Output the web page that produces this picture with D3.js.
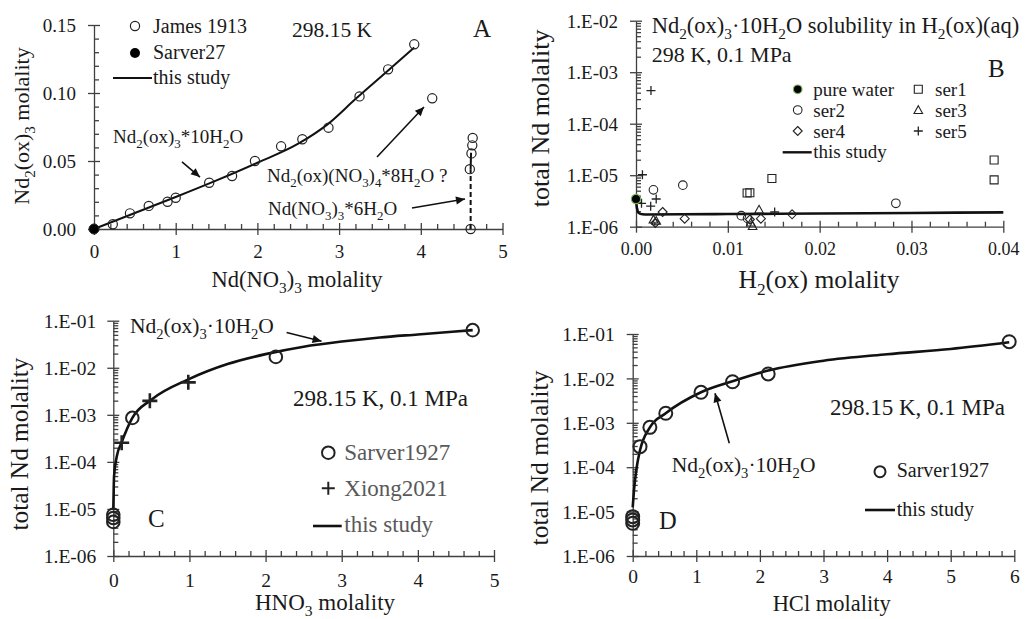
<!DOCTYPE html>
<html><head><meta charset="utf-8">
<script src="https://cdn.jsdelivr.net/npm/d3@7"></script>
<style>
html,body{margin:0;padding:0;background:#fff;}
svg{display:block;font-family:"Liberation Serif","Times New Roman",serif;}
</style></head><body>
<svg id="c" width="1027" height="619"></svg>
<script>
// ================= DATA =================
// Panel A
const aTicksX = [0, 1, 2, 3, 4, 5];
const aTickLabelsX = ["0", "1", "2", "3", "4", "5"];
const aTicksY = [0, 0.05, 0.10, 0.15];
const aTickLabelsY = ["0.00", "0.05", "0.10", "0.15"];
const aJames = [[0.23,0.0035],[0.44,0.0115],[0.67,0.017],[0.90,0.020],[1.00,0.023],[1.41,0.034],[1.69,0.039],[1.97,0.050],[2.29,0.0608],[2.55,0.066],[2.87,0.0745],[3.25,0.0975],[3.60,0.1174],[3.92,0.1358],[4.14,0.0961],[4.61,0.0],[4.60,0.044],[4.62,0.0556],[4.63,0.0615],[4.635,0.067]];
const aSarver = [[0, 0]];
const aModel = [[0,0],[0.5,0.0118],[1,0.0235],[1.5,0.0357],[2,0.0487],[2.5,0.0627],[2.87,0.0775],[3.2,0.0955],[3.6,0.1165],[3.92,0.1335]];
const aModelDashed = [[4.61,0],[4.61,0.044]];
const aModelTop = [[4.61,0.044],[4.615,0.056]];
// Panel B
const bTicksX = [0, 0.01, 0.02, 0.03, 0.04];
const bTickLabelsX = ["0.00", "0.01", "0.02", "0.03", "0.04"];
const bTicksY = [1e-6, 1e-5, 1e-4, 1e-3, 1e-2];
const bTickLabelsY = ["1.E-06", "1.E-05", "1.E-04", "1.E-03", "1.E-02"];
const bPure = [[0, 3.45e-6]];
const bSer1 = [[0.039,1.97e-5],[0.039,8.1e-6],[0.0148,8.6e-6],[0.0121,4.5e-6],[0.0124,4.55e-6]];
const bSer2 = [[0.0019,5.2e-6],[0.0051,6.4e-6],[0.0283,2.85e-6],[0.01147,1.64e-6],[0.01215,1.45e-6]];
const bSer3 = [[0.0019,1.38e-6],[0.0022,1.3e-6],[0.0134,2.15e-6],[0.0127,1.03e-6],[0.0125,1.2e-6]];
const bSer4 = [[0.0029,1.93e-6],[0.0053,1.43e-6],[0.0021,1.18e-6],[0.0136,1.43e-6],[0.0170,1.74e-6],[0.0124,1.38e-6]];
const bSer5 = [[0.00163,4.4e-4],[0.0007,1.02e-5],[0.0006,2.85e-6],[0.0016,2.5e-6],[0.0022,3.45e-6],[0.0151,1.93e-6]];
const bModel = [[0,3.45e-6],[0.0001,2.3e-6],[0.0003,1.85e-6],[0.0007,1.74e-6],[0.001,1.73e-6],[0.005,1.74e-6],[0.01,1.76e-6],[0.02,1.8e-6],[0.03,1.85e-6],[0.04,1.9e-6]];
// Panel C
const cTicksX = [0, 1, 2, 3, 4, 5];
const cTickLabelsX = ["0", "1", "2", "3", "4", "5"];
const cTicksY = [1e-6, 1e-5, 1e-4, 1e-3, 1e-2, 1e-1];
const cTickLabelsY = ["1.E-06", "1.E-05", "1.E-04", "1.E-03", "1.E-02", "1.E-01"];
const cSarver = [[0,7.5e-6],[0,6.4e-6],[0,5.3e-6],[0.25,8.6e-4],[2.135,1.7e-2],[4.72,6.3e-2]];
const cXiong = [[0.11,2.55e-4],[0.48,1.98e-3],[0.985,4.9e-3]];
const cModel = [[0,9.5e-6],[0.005,2.5e-5],[0.01,5e-5],[0.044,1.27e-4],[0.11,2.6e-4],[0.25,8.6e-4],[0.5,2.1e-3],[1.0,5.8e-3],[1.5,1.2e-2],[2.0,1.95e-2],[2.5,2.8e-2],[3.0,3.6e-2],[3.5,4.4e-2],[4.0,5.1e-2],[4.72,6.3e-2]];
// Panel D
const dTicksX = [0, 1, 2, 3, 4, 5, 6];
const dTickLabelsX = ["0", "1", "2", "3", "4", "5", "6"];
const dTicksY = [1e-6, 1e-5, 1e-4, 1e-3, 1e-2, 1e-1];
const dTickLabelsY = ["1.E-06", "1.E-05", "1.E-04", "1.E-03", "1.E-02", "1.E-01"];
const dSarver = [[0,7.7e-6],[0,6.5e-6],[0,5.45e-6],[0.115,2.9e-4],[0.27,7.9e-4],[0.52,1.64e-3],[1.074,4.87e-3],[1.57,8.4e-3],[2.13,1.26e-2],[5.92,6.7e-2]];
const dModel = [[0,1.25e-5],[0.02,3e-5],[0.063,1.0e-4],[0.115,2.4e-4],[0.27,7.9e-4],[0.52,1.64e-3],[1.074,4.87e-3],[1.57,8.6e-3],[2.13,1.5e-2],[3.0,2.5e-2],[4.0,3.5e-2],[5.0,4.6e-2],[5.92,6.5e-2]];

// ================= HELPERS =================
const svg = d3.select('#c');
const AX = '#404040', TX = '#1a1a1a';
const defs = svg.append('defs');
defs.append('marker').attr('id','arr').attr('viewBox','0 0 10 10').attr('refX',10).attr('refY',5)
  .attr('markerWidth',11).attr('markerHeight',9).attr('markerUnits','userSpaceOnUse').attr('orient','auto')
  .append('path').attr('d','M0,0.5 L10,5 L0,9.5 z').attr('fill','#111');

function rich(t, str, fs) {
  t.attr('font-size', fs);
  const parts = str.split(/(_\{[^}]*\}|_.)/).filter(s => s.length);
  const sh = fs * 0.27;
  let shifted = false;
  parts.forEach(p => {
    if (p[0] === '_') {
      const s = p[1] === '{' ? p.slice(2, -1) : p.slice(1);
      t.append('tspan').attr('dy', shifted ? 0 : sh).attr('font-size', fs * 0.68).text(s);
      shifted = true;
    } else {
      const ts = t.append('tspan').text(p);
      if (shifted) { ts.attr('dy', -sh); shifted = false; }
    }
  });
  return t;
}
function label(x, y, str, fs, opt = {}) {
  const t = svg.append('text').attr('x', x).attr('y', y).attr('fill', opt.fill || TX)
    .attr('text-anchor', opt.anchor || 'start');
  if (opt.rotate) t.attr('transform', `rotate(-90,${x},${y})`);
  return rich(t, str, fs);
}
function minorsLin(lo, hi, step, majors) {
  const out = [];
  for (let v = lo; v <= hi + 1e-9; v += step) {
    const r = +v.toFixed(6);
    if (!majors.some(m => Math.abs(m - r) < 1e-9)) out.push(r);
  }
  return out;
}
function minorsLog(e0, e1) {
  const out = [];
  for (let e = e0; e < e1; e++) for (let k = 2; k <= 9; k++) out.push(k * Math.pow(10, e));
  return out;
}
function styleAxis(g) {
  g.attr('font-family', null).attr('font-size', null).attr('color', AX);
  g.selectAll('line,path').attr('stroke-width', 1.3);
  g.selectAll('text').attr('fill', TX);
}
function xAxis(x, yPix, ticks, labels, minor, fs, off) {
  const g = svg.append('g').attr('transform', `translate(0,${yPix})`);
  const mi = g.append('g').call(d3.axisBottom(x).tickValues(minor).tickSize(-5).tickFormat(() => ''));
  mi.select('.domain').remove(); styleAxis(mi);
  const ma = g.append('g').call(d3.axisBottom(x).tickValues(ticks).tickSizeInner(6).tickSizeOuter(0).tickFormat((d, i) => labels[i]));
  ma.selectAll('.tick line').attr('y1', -6);
  ma.selectAll('.tick text').attr('y', off).attr('dy', null).attr('font-size', fs);
  styleAxis(ma);
}
function yAxis(y, xPix, ticks, labels, minor, fs, pad) {
  const g = svg.append('g').attr('transform', `translate(${xPix},0)`);
  const mi = g.append('g').call(d3.axisLeft(y).tickValues(minor).tickSize(-5).tickFormat(() => ''));
  mi.select('.domain').remove(); styleAxis(mi);
  const ma = g.append('g').call(d3.axisLeft(y).tickValues(ticks).tickSizeInner(6).tickSizeOuter(0).tickPadding(pad).tickFormat((d, i) => labels[i]));
  ma.selectAll('.tick line').attr('x1', 6);
  ma.selectAll('.tick text').attr('font-size', fs).attr('dy', '0.34em');
  styleAxis(ma);
}
function circles(x, y, data, r, sw, fill) {
  svg.append('g').selectAll('circle').data(data).join('circle')
    .attr('cx', d => x(d[0])).attr('cy', d => y(d[1])).attr('r', r)
    .attr('fill', fill || 'none').attr('stroke', '#222').attr('stroke-width', sw);
}
function symbols(x, y, data, path, sw) {
  svg.append('g').selectAll('path').data(data).join('path')
    .attr('transform', d => `translate(${x(d[0])},${y(d[1])})`).attr('d', path)
    .attr('fill', 'none').attr('stroke', '#222').attr('stroke-width', sw);
}
function curve(x, y, data, sw, dash, linear) {
  svg.append('path').datum(data)
    .attr('d', d3.line().x(d => x(d[0])).y(d => y(d[1])).curve(linear ? d3.curveLinear : d3.curveMonotoneX))
    .attr('fill', 'none').attr('stroke', '#111').attr('stroke-width', sw)
    .attr('stroke-dasharray', dash || null);
}
function arrow(x, y, p0, p1) {
  svg.append('line').attr('x1', x(p0[0])).attr('y1', y(p0[1])).attr('x2', x(p1[0])).attr('y2', y(p1[1]))
    .attr('stroke', '#111').attr('stroke-width', 1.6).attr('marker-end', 'url(#arr)');
}
const plusP = s => `M${-s},0H${s}M0,${-s}V${s}`;
const squareP = s => `M${-s},${-s}H${s}V${s}H${-s}Z`;
const triP = s => `M0,${-s}L${s},${s * 0.8}L${-s},${s * 0.8}Z`;
const diaP = s => `M0,${-s}L${s},0L0,${s}L${-s},0Z`;

// ================= PANEL A =================
{
  const x = d3.scaleLinear().domain([0, 5]).range([94, 502.5]);
  const y = d3.scaleLinear().domain([0, 0.15]).range([229, 25]);
  yAxis(y, 94, aTicksY, aTickLabelsY, minorsLin(0, 0.15, 0.01, aTicksY), 19, 12);
  xAxis(x, 229, aTicksX, aTickLabelsX, minorsLin(0, 5, 0.2, aTicksX), 19, 29);
  curve(x, y, aModel, 2);
  curve(x, y, aModelDashed, 2, '5,3', true);
  curve(x, y, aModelTop, 2, null, true);
  circles(x, y, aJames, 4.6, 1.2, 'none');
  circles(x, y, aSarver, 5, 1, '#000');
  // legend
  svg.append('circle').attr('cx', 135).attr('cy', 26).attr('r', 4.6).attr('fill', 'none').attr('stroke', '#222').attr('stroke-width', 1.2);
  svg.append('circle').attr('cx', 135).attr('cy', 53).attr('r', 5).attr('fill', '#000');
  svg.append('line').attr('x1', 113).attr('x2', 152).attr('y1', 78).attr('y2', 78).attr('stroke', '#111').attr('stroke-width', 2);
  label(153, 33, 'James 1913', 20);
  label(153, 59, 'Sarver27', 20);
  label(153, 84, 'this study', 20);
  label(292, 37, '298.15 K', 21.5);
  label(473, 37, 'A', 25);
  label(113, 143, 'Nd_2(ox)_3*10H_2O', 19);
  arrow(x, y, [1.077, 0.0493], [1.297, 0.0382]);
  label(267, 182, 'Nd_2(ox)(NO_3)_4*8H_2O  ?', 19);
  arrow(x, y, [3.464, 0.0529], [4.039, 0.0897]);
  label(268, 215, 'Nd(NO_3)_3*6H_2O', 19);
  arrow(x, y, [3.892, 0.0154], [4.541, 0.0221]);
  label(29, 126, 'Nd_2(ox)_3 molality', 22, { anchor: 'middle', rotate: true });
  label(297, 287, 'Nd(NO_3)_3 molality', 22.5, { anchor: 'middle' });
}

// ================= PANEL B =================
{
  const x = d3.scaleLinear().domain([0, 0.04]).range([636, 1003.3]);
  const y = d3.scaleLog().domain([1e-6, 1e-2]).range([226.7, 20.7]);
  yAxis(y, 636, bTicksY, bTickLabelsY, minorsLog(-6, -2), 19, 12);
  xAxis(x, 226.7, bTicksX, bTickLabelsX, minorsLin(0, 0.04, 0.002, bTicksX), 18, 28);
  curve(x, y, bModel, 2.6);
  symbols(x, y, bSer1, squareP(4), 1.1);
  circles(x, y, bSer2, 4.3, 1.1, 'none');
  symbols(x, y, bSer3, triP(4.3), 1.1);
  symbols(x, y, bSer4, diaP(4.5), 1.1);
  symbols(x, y, bSer5, plusP(4.5), 1.3);
  svg.append('g').selectAll('circle').data(bPure).join('circle')
    .attr('cx', d => x(d[0])).attr('cy', d => y(d[1])).attr('r', 4.6)
    .attr('fill', '#000').attr('stroke', '#7ab55c').attr('stroke-width', 1.2);
  // legend
  svg.append('circle').attr('cx', 797.7).attr('cy', 89.3).attr('r', 4.3).attr('fill', '#000').attr('stroke', '#7ab55c').attr('stroke-width', 1.2);
  svg.append('circle').attr('cx', 797.7).attr('cy', 110).attr('r', 4.3).attr('fill', 'none').attr('stroke', '#222').attr('stroke-width', 1.1);
  svg.append('path').attr('transform', 'translate(797.7,131)').attr('d', diaP(4.5)).attr('fill', 'none').attr('stroke', '#222').attr('stroke-width', 1.1);
  svg.append('line').attr('x1', 782.7).attr('x2', 811.7).attr('y1', 152.3).attr('y2', 152.3).attr('stroke', '#111').attr('stroke-width', 2.4);
  svg.append('path').attr('transform', 'translate(918.3,89.3)').attr('d', squareP(4)).attr('fill', 'none').attr('stroke', '#222').attr('stroke-width', 1.1);
  svg.append('path').attr('transform', 'translate(918.3,110)').attr('d', triP(4.3)).attr('fill', 'none').attr('stroke', '#222').attr('stroke-width', 1.1);
  svg.append('path').attr('transform', 'translate(918.3,131)').attr('d', plusP(4.5)).attr('fill', 'none').attr('stroke', '#222').attr('stroke-width', 1.3);
  label(813.3, 96, 'pure water', 19);
  label(813.3, 117, 'ser2', 19);
  label(813.3, 138, 'ser4', 19);
  label(813.3, 158, 'this study', 19);
  label(935, 96, 'ser1', 19);
  label(935, 117, 'ser3', 19);
  label(935, 138, 'ser5', 19);
  label(651.7, 33.3, 'Nd_2(ox)_3·10H_2O solubility in H_2(ox)(aq)', 22.5);
  label(651.7, 61.7, '298 K, 0.1 MPa', 22);
  label(988, 76.7, 'B', 25);
  label(549, 118.3, 'total Nd molality', 26, { anchor: 'middle', rotate: true });
  label(819, 288, 'H_2(ox) molality', 25.5, { anchor: 'middle' });
}

// ================= PANEL C =================
{
  const x = d3.scaleLinear().domain([0, 5]).range([113.3, 494]);
  const y = d3.scaleLog().domain([1e-6, 1e-1]).range([556, 320.7]);
  yAxis(y, 113.3, cTicksY, cTickLabelsY, minorsLog(-6, -1), 19.5, 11);
  xAxis(x, 556, cTicksX, cTickLabelsX, minorsLin(0, 5, 0.2, cTicksX), 19.5, 30.7);
  curve(x, y, cModel, 2.6);
  circles(x, y, cSarver, 6.3, 2, 'none');
  symbols(x, y, cXiong, plusP(7.5), 2.6);
  svg.append('circle').attr('cx', 328.3).attr('cy', 452.7).attr('r', 6.3).attr('fill', 'none').attr('stroke', '#222').attr('stroke-width', 2);
  svg.append('path').attr('transform', 'translate(328.3,488.3)').attr('d', plusP(6.5)).attr('fill', 'none').attr('stroke', '#222').attr('stroke-width', 2);
  svg.append('line').attr('x1', 313).attr('x2', 341.7).attr('y1', 526).attr('y2', 526).attr('stroke', '#111').attr('stroke-width', 2.6);
  label(344.3, 460, 'Sarver1927', 23, { fill: '#595959' });
  label(344.3, 496, 'Xiong2021', 23, { fill: '#595959' });
  label(344.3, 532, 'this study', 23, { fill: '#595959' });
  label(293, 406, '298.15 K, 0.1 MPa', 23);
  label(148, 527, 'C', 25);
  label(130, 333.3, 'Nd_2(ox)_3·10H_2O', 21.5);
  arrow(x, y, [2.276, 5.61e-2], [2.735, 3.67e-2]);
  label(28, 444, 'total Nd molality', 25.3, { anchor: 'middle', rotate: true });
  label(325, 609.5, 'HNO_3 molality', 23, { anchor: 'middle' });
}

// ================= PANEL D =================
{
  const x = d3.scaleLinear().domain([0, 6]).range([632.7, 1014.3]);
  const y = d3.scaleLog().domain([1e-6, 1e-1]).range([556, 334]);
  yAxis(y, 632.7, dTicksY, dTickLabelsY, minorsLog(-6, -1), 19.5, 12);
  xAxis(x, 556, dTicksX, dTickLabelsX, minorsLin(0, 6, 0.2, dTicksX), 19.5, 27.3);
  curve(x, y, dModel, 2.6);
  circles(x, y, dSarver, 6.5, 2, 'none');
  svg.append('circle').attr('cx', 880).attr('cy', 471.7).attr('r', 5.5).attr('fill', 'none').attr('stroke', '#222').attr('stroke-width', 2);
  svg.append('line').attr('x1', 865).attr('x2', 895).attr('y1', 510).attr('y2', 510).attr('stroke', '#111').attr('stroke-width', 2.6);
  label(896.7, 477, 'Sarver1927', 20);
  label(896.7, 516, 'this study', 20);
  label(830, 415, '298.15 K, 0.1 MPa', 23);
  label(659, 529.3, 'D', 24.5);
  label(671.7, 471.7, 'Nd_2(ox)_3·10H_2O', 21.5);
  arrow(x, y, [1.519, 3.45e-4], [1.294, 4.62e-3]);
  label(548, 458, 'total Nd molality', 25.6, { anchor: 'middle', rotate: true });
  label(831.7, 611, 'HCl molality', 22.5, { anchor: 'middle' });
}
</script>
</body></html>
